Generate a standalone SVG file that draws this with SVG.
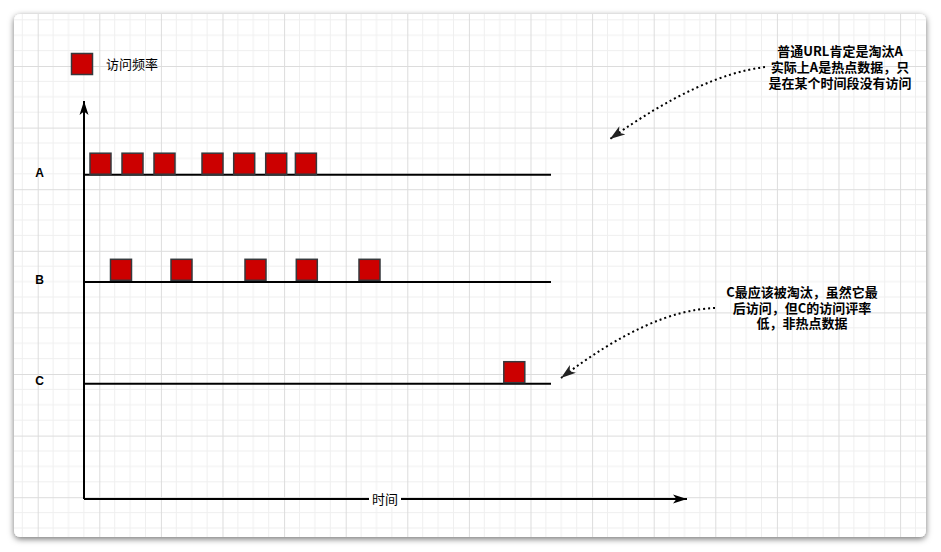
<svg xmlns="http://www.w3.org/2000/svg" width="941" height="552" viewBox="0 0 941 552">
  <style>
    .cjk { font-family: "Noto Sans CJK SC", "Noto Sans", sans-serif; fill: #000; }
    .note { font-size: 13px; font-weight: bold; text-anchor: middle; }
    .lbl { font-family: "Liberation Sans", Arial, sans-serif; font-size: 12px; font-weight: bold; text-anchor: middle; fill: #000; }
    .axis { stroke: #000; stroke-width: 2; fill: none; }
    .track { stroke: #000; stroke-width: 2; fill: none; }
    .sq { fill: #CC0000; stroke: #36393d; stroke-width: 1.5; }
    .dot { stroke: #000; stroke-width: 2; fill: none; stroke-dasharray: 2 3; }
    .minor { stroke: #efefef; stroke-width: 1; }
    .major { stroke: #dcdcdc; stroke-width: 1; }
  </style>
  <defs>
    <filter id="shadow" x="-5%" y="-5%" width="110%" height="115%">
      <feDropShadow dx="0" dy="2" stdDeviation="3" flood-color="#000" flood-opacity="0.55"/>
    </filter>
    <pattern id="grid" patternUnits="userSpaceOnUse" x="37.7" y="4.4" width="61.6" height="61.6">
      <path class="minor" d="M15.4,0V61.6M30.8,0V61.6M46.2,0V61.6M0,15.4H61.6M0,30.8H61.6M0,46.2H61.6"/>
      <path class="major" d="M0.5,0V61.6M0,0.5H61.6"/>
    </pattern>
    <marker id="arrow" viewBox="-15 -6 16 12" refX="0" refY="0" markerWidth="16" markerHeight="12" markerUnits="userSpaceOnUse" orient="auto">
      <path d="M0,0 L-14,-4.5 L-10.5,0 L-14,4.5 Z" fill="#000"/>
    </marker>
    <marker id="arrowc" viewBox="-15 -6 16 12" refX="0" refY="0" markerWidth="16" markerHeight="12" markerUnits="userSpaceOnUse" orient="auto">
      <path d="M0,0 L-15,-5 L-11,0 L-15,5 Z" fill="#222"/>
    </marker>
  </defs>

  <rect x="0" y="0" width="941" height="552" fill="#ffffff"/>
  <rect x="14" y="14" width="912" height="523" rx="6" fill="#ffffff" filter="url(#shadow)"/>
  <rect x="14" y="14" width="912" height="523" rx="6" fill="url(#grid)"/>

  <g id="legend">
    <rect class="sq" x="71.5" y="53.5" width="21" height="21"/>
    <text class="cjk" x="106" y="68.7" font-size="13">访问频率</text>
  </g>

  <g id="row-labels">
    <text class="lbl" x="39.5" y="176.5">A</text>
    <text class="lbl" x="39.5" y="283.5">B</text>
    <text class="lbl" x="39.5" y="385.2">C</text>
  </g>

  <g id="connectors">
    <path class="axis" d="M84,499 V101" marker-end="url(#arrow)"/>
    <path class="axis" d="M84,499 H687" marker-end="url(#arrow)"/>
    <path class="track" d="M84,174.7 H551"/>
    <path class="track" d="M84,282 H551"/>
    <path class="track" d="M84,383.7 H551"/>
    <path class="dot" d="M765,67 Q700,75 610,139" marker-end="url(#arrowc)"/>
    <path class="dot" d="M715,308 Q650,310 561,378" marker-end="url(#arrowc)"/>
  </g>

  <g id="axis-label">
    <rect x="369" y="491" width="32" height="16" fill="#ffffff"/>
    <text class="cjk" x="385" y="503.7" font-size="13" text-anchor="middle">时间</text>
  </g>

  <g id="row-A">
    <rect class="sq" x="90" y="153.2" width="21" height="21"/>
    <rect class="sq" x="122" y="153.2" width="21" height="21"/>
    <rect class="sq" x="154" y="153.2" width="21" height="21"/>
    <rect class="sq" x="202" y="153.2" width="21" height="21"/>
    <rect class="sq" x="233.7" y="153.2" width="21" height="21"/>
    <rect class="sq" x="265.7" y="153.2" width="21" height="21"/>
    <rect class="sq" x="295.4" y="153.2" width="21" height="21"/>
  </g>

  <g id="row-B">
    <rect class="sq" x="110.5" y="259.3" width="21" height="21"/>
    <rect class="sq" x="171" y="259.3" width="21" height="21"/>
    <rect class="sq" x="245" y="259.3" width="21" height="21"/>
    <rect class="sq" x="296.3" y="259.3" width="21" height="21"/>
    <rect class="sq" x="359" y="259.3" width="21" height="21"/>
  </g>

  <g id="row-C">
    <rect class="sq" x="503.8" y="361.7" width="21" height="21"/>
  </g>

  <g id="note-A">
    <text class="cjk note" x="840" y="55.7">普通URL肯定是淘汰A</text>
    <text class="cjk note" x="840" y="71.7">实际上A是热点数据，只</text>
    <text class="cjk note" x="840" y="87.7">是在某个时间段没有访问</text>
  </g>

  <g id="note-C">
    <text class="cjk note" x="802" y="296.5">C最应该被淘汰，虽然它最</text>
    <text class="cjk note" x="802" y="312.5">后访问，但C的访问评率</text>
    <text class="cjk note" x="802" y="328">低，非热点数据</text>
  </g>
</svg>
